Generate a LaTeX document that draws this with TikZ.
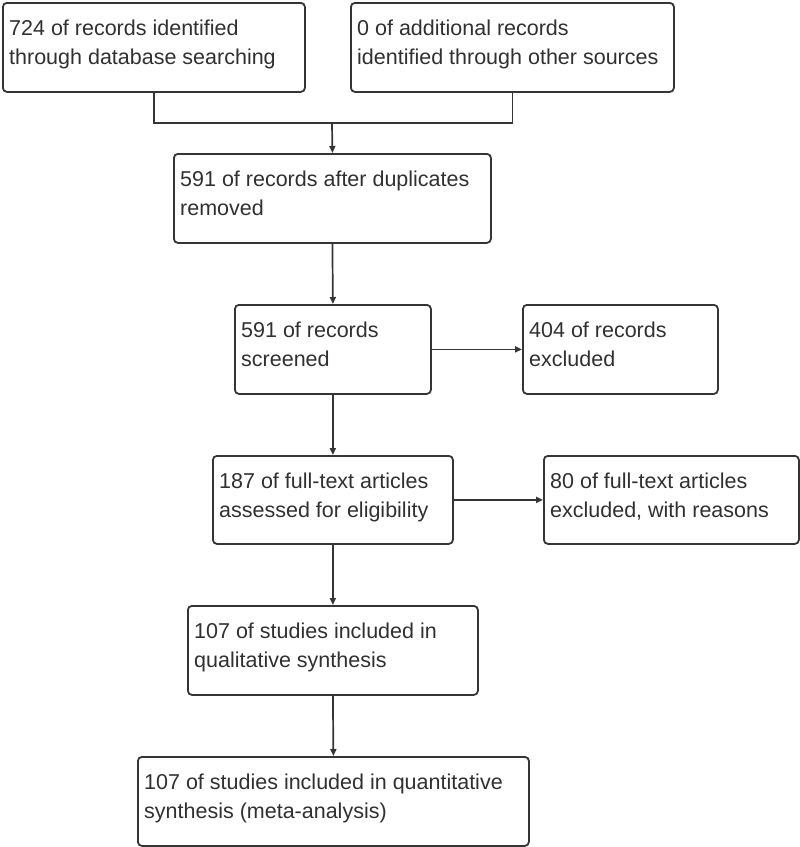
\documentclass[tikz,border=0pt]{standalone}
\usepackage{fontspec}
\setmainfont{Liberation Sans}
\usetikzlibrary{arrows.meta,calc}
\definecolor{lin}{HTML}{353535}
\definecolor{txc}{HTML}{303030}
\begin{document}
\begin{tikzpicture}[x=1pt,y=-1pt,
  box/.style={draw=lin, line width=1.8pt, rounded corners=4pt, anchor=north west, inner sep=0pt},
  txt/.style={anchor=base west, align=left, inner sep=0pt, text=txc, font=\fontsize{21.5}{29}\selectfont},
  arr/.style={draw=lin, line width=1.7pt, -{Triangle[length=7pt,width=6pt]}},
  con/.style={draw=lin, line width=1.7pt}]
\useasboundingbox (0,0) rectangle (800,847);
\node[box, minimum width=302pt, minimum height=89pt] (b1) at (2,2) {};
\node[box, minimum width=323pt, minimum height=89pt] (b2) at (350,2) {};
\node[box, minimum width=317pt, minimum height=89pt] (b3) at (173,153) {};
\node[box, minimum width=196pt, minimum height=89pt] (b4) at (234,304) {};
\node[box, minimum width=195pt, minimum height=89pt] (b5) at (522,304) {};
\node[box, minimum width=240pt, minimum height=88pt] (b6) at (212,455) {};
\node[box, minimum width=255pt, minimum height=88pt] (b7) at (543,455) {};
\node[box, minimum width=290pt, minimum height=89pt] (b8) at (187,605) {};
\node[box, minimum width=391pt, minimum height=89pt] (b9) at (137,756) {};
\node[txt] (t1) at ($(b1.north west)+(7,62)$) {724 of records identified\\through database searching};
\node[txt] (t2) at ($(b2.north west)+(7,62)$) {0 of additional records\\identified through other sources};
\node[txt] (t3) at ($(b3.north west)+(7,62)$) {591 of records after duplicates\\removed};
\node[txt] (t4) at ($(b4.north west)+(7,62)$) {591 of records\\screened};
\node[txt] (t5) at ($(b5.north west)+(7,62)$) {404 of records\\excluded};
\node[txt] (t6) at ($(b6.north west)+(7,62)$) {187 of full-text articles\\assessed for eligibility};
\node[txt] (t7) at ($(b7.north west)+(7,62)$) {80 of full-text articles\\excluded, with reasons};
\node[txt] (t8) at ($(b8.north west)+(7,62)$) {107 of studies included in\\qualitative synthesis};
\node[txt] (t9) at ($(b9.north west)+(7,62)$) {107 of studies included in quantitative\\synthesis (meta-analysis)};
\coordinate (m) at (332,123);
\draw[con] (b1.south) |- (m);
\draw[con] (b2.south) |- (m);
\draw[arr] (m) -- (b3.north);
\draw[arr] (b3.south) -- (b4.north);
\draw[arr] (b4.east) -- (b5.west);
\draw[arr] (b4.south) -- (b6.north);
\draw[arr] (b6.east) -- (b7.west);
\draw[arr] (b6.south) -- (b8.north);
\draw[arr] (b8.south) -- (b9.north);
\end{tikzpicture}
\end{document}
